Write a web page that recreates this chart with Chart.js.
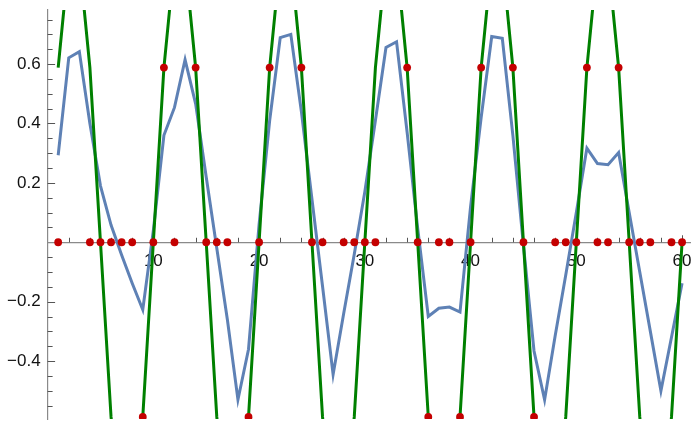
<!DOCTYPE html>
<html>
<head>
<meta charset="utf-8">
<script src="https://cdn.jsdelivr.net/npm/chart.js@4"></script>
<style>
  html, body { margin: 0; padding: 0; background: #fff; }
  #wrap { width: 694px; height: 423px; }
</style>
</head>
<body>
<div id="wrap"><canvas id="chart" width="694" height="423"></canvas></div>
<script>
// sample index n = 1..60
const samples = [1, 2, 3, 4, 5, 6, 7, 8, 9, 10, 11, 12, 13, 14, 15, 16, 17, 18, 19, 20,
  21, 22, 23, 24, 25, 26, 27, 28, 29, 30, 31, 32, 33, 34, 35, 36, 37, 38, 39, 40,
  41, 42, 43, 44, 45, 46, 47, 48, 49, 50, 51, 52, 53, 54, 55, 56, 57, 58, 59, 60];

// original signal (green line)
const original = [0.588, 0.951, 0.951, 0.588, 0, -0.588, -0.951, -0.951, -0.588, 0,
  0.588, 0.951, 0.951, 0.588, 0, -0.588, -0.951, -0.951, -0.588, 0,
  0.588, 0.951, 0.951, 0.588, 0, -0.588, -0.951, -0.951, -0.588, 0,
  0.588, 0.951, 0.951, 0.588, 0, -0.588, -0.951, -0.951, -0.588, 0,
  0.588, 0.951, 0.951, 0.588, 0, -0.588, -0.951, -0.951, -0.588, 0,
  0.588, 0.951, 0.951, 0.588, 0, -0.588, -0.951, -0.951, -0.588, 0];

// sampled signal with dropped samples (red dots)
const sampled = [0, 0.951, 0.951, 0, 0, 0, 0, 0, -0.588, 0,
  0.588, 0, 0.951, 0.588, 0, 0, 0, -0.951, -0.588, 0,
  0.588, 0.951, 0.951, 0.588, 0, 0, -0.951, 0, 0, 0,
  0, 0.951, 0.951, 0.588, 0, -0.588, 0, 0, -0.588, 0,
  0.588, 0.951, 0.951, 0.588, 0, -0.588, -0.951, 0, 0, 0,
  0.588, 0, 0, 0.588, 0, 0, 0, -0.951, 0, 0];

// reconstruction (blue line)
const recovered = [0.293, 0.621, 0.642, 0.40, 0.19, 0.058, -0.043, -0.138, -0.227, 0.04,
  0.36, 0.454, 0.615, 0.466, 0.22, -0.02, -0.26, -0.53, -0.36, 0.06,
  0.41, 0.689, 0.700, 0.44, 0.145, -0.148, -0.445, -0.24, -0.04, 0.17,
  0.41, 0.656, 0.675, 0.37, 0.047, -0.25, -0.222, -0.218, -0.235, 0.12,
  0.42, 0.693, 0.687, 0.36, -0.01, -0.366, -0.53, -0.315, -0.11, 0.10,
  0.317, 0.265, 0.261, 0.302, 0.10, -0.10, -0.30, -0.50, -0.32, -0.138];

const xTickValues = [10, 20, 30, 40, 50, 60];
const yTickValues = [-0.4, -0.2, 0.2, 0.4, 0.6];

function points(values) {
  return samples.map((n, i) => ({ x: n, y: values[i] }));
}

// Mathematica style ticks, pointing into the plot
const axisTicks = {
  id: "axisTicks",
  beforeDatasetsDraw(chart) {
    const { ctx, scales: { x, y } } = chart;
    const x0 = x.getPixelForValue(0);
    const y0 = y.getPixelForValue(0);
    ctx.save();
    ctx.strokeStyle = "#555";
    ctx.lineWidth = 1;
    ctx.beginPath();
    for (let v = 2; v <= 60; v += 2) {
      const px = Math.round(x.getPixelForValue(v)) + 0.5;
      const len = v % 10 === 0 ? 7 : 4.5;
      ctx.moveTo(px, y0);
      ctx.lineTo(px, y0 - len);
    }
    for (let k = -11; k <= 15; k++) {
      if (k === 0) continue;
      const py = Math.round(y.getPixelForValue(k * 0.05)) + 0.5;
      const len = k % 4 === 0 ? 7.5 : 5;
      ctx.moveTo(x0, py);
      ctx.lineTo(x0 + len, py);
    }
    ctx.stroke();
    ctx.restore();
  }
};

const ctx = document.getElementById("chart").getContext("2d");
new Chart(ctx, {
  type: "line",
  data: {
    datasets: [
      {
        label: "recovered",
        data: points(recovered),
        borderColor: "#5E81B5",
        borderWidth: 3,
        pointRadius: 0,
        tension: 0,
        order: 3
      },
      {
        label: "original",
        data: points(original),
        borderColor: "#008000",
        borderWidth: 3,
        pointRadius: 0,
        tension: 0,
        order: 2
      },
      {
        label: "sampled",
        data: points(sampled),
        showLine: false,
        pointRadius: 3.9,
        pointBackgroundColor: "#C40000",
        pointBorderWidth: 0,
        order: 1
      }
    ]
  },
  options: {
    responsive: false,
    devicePixelRatio: 1,
    animation: false,
    layout: { padding: { left: 0, right: 0, top: 10, bottom: 1.5 } },
    plugins: { legend: { display: false }, tooltip: { enabled: false } },
    scales: {
      x: {
        type: "linear",
        min: 0,
        max: 60.75,
        position: { y: 0 },
        grid: { drawOnChartArea: false, drawTicks: false },
        border: { display: true, color: "#8a8a8a", width: 1.2 },
        afterBuildTicks: (scale) => {
          scale.ticks = xTickValues.map((v) => ({ value: v }));
        },
        afterFit: (scale) => {
          scale.paddingLeft = 0;
          scale.paddingRight = 0;
        },
        ticks: {
          color: "#111",
          padding: 9,
          maxRotation: 0,
          autoSkip: false,
          font: { family: "Liberation Sans", size: 17 }
        }
      },
      y: {
        type: "linear",
        min: -0.595,
        max: 0.782,
        position: "left",
        grid: { drawOnChartArea: false, drawTicks: false },
        border: { display: true, color: "#8a8a8a", width: 1.2 },
        afterBuildTicks: (scale) => {
          scale.ticks = yTickValues.map((v) => ({ value: v }));
        },
        afterFit: (scale) => {
          scale.width = 47.6;
          scale.paddingTop = 0;
          scale.paddingBottom = 0;
        },
        ticks: {
          color: "#111",
          padding: 7,
          autoSkip: false,
          font: { family: "Liberation Sans", size: 17 },
          callback: (v) => (v < 0 ? "\u2212" + Math.abs(v).toFixed(1) : v.toFixed(1))
        }
      }
    }
  },
  plugins: [axisTicks]
});
</script>
</body>
</html>
